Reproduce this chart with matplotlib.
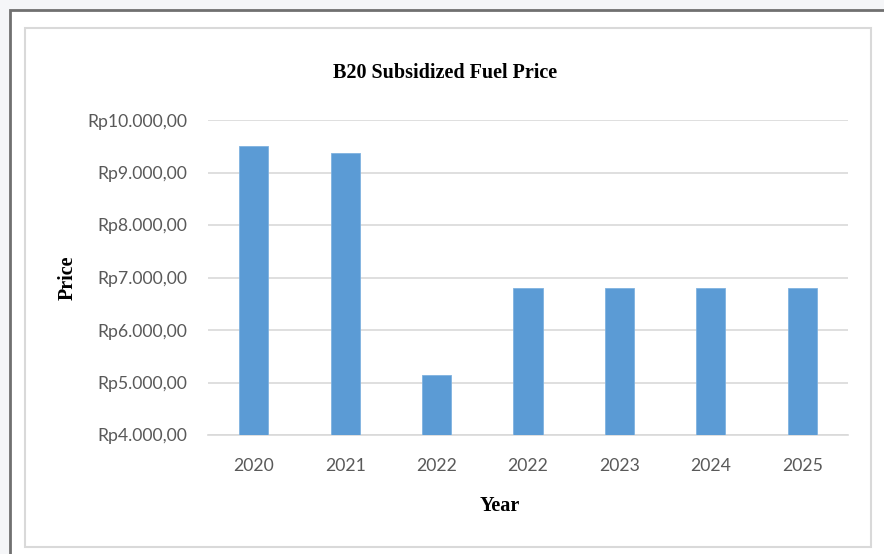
import matplotlib.pyplot as plt
from matplotlib.patches import Rectangle
from matplotlib.ticker import FuncFormatter

# data
years = ['2020', '2021', '2022', '2022', '2023', '2024', '2025']
prices = [9500, 9370, 5150, 6800, 6800, 6800, 6800]
y_ticks = [4000, 5000, 6000, 7000, 8000, 9000, 10000]

W, H = 884, 554


def rp(v, pos=None):
    s = '{:,.2f}'.format(v)
    s = s.replace(',', 'X').replace('.', ',').replace('X', '.')
    return 'Rp' + s


fig = plt.figure(figsize=(W / 100, H / 100), dpi=100, facecolor='#f5f6f8')

# white page with the dark outer frame
fig.patches.append(Rectangle((10 / W, -0.1), 1.1, (H - 10) / H + 0.1,
                             transform=fig.transFigure, facecolor='white',
                             edgecolor='#707070', linewidth=2, zorder=-3))
# chart area frame
fig.patches.append(Rectangle((25 / W, (H - 547) / H), (871 - 25) / W, (547 - 28) / H,
                             transform=fig.transFigure, facecolor='white',
                             edgecolor='#d9d9d9', linewidth=1.5, zorder=-2))

ax = fig.add_axes([208 / W, (H - 435) / H, (848 - 208) / W, (435 - 120) / H])
ax.set_facecolor('none')

x = range(len(years))
ax.bar(x, prices, width=0.32, color='#5b9bd5', edgecolor='#7fb2e0',
       linewidth=0.6, zorder=3)

ax.set_xlim(-0.5, len(years) - 0.5)
ax.set_ylim(4000, 10000)
ax.set_yticks(y_ticks)
ax.yaxis.set_major_formatter(FuncFormatter(rp))
ax.set_xticks(list(x))
ax.set_xticklabels(years)

ax.grid(axis='y', color='#d9d9d9', linewidth=1.2, zorder=0)
for s in ['top', 'right', 'left']:
    ax.spines[s].set_visible(False)
ax.spines['bottom'].set_color('#d9d9d9')
ax.spines['bottom'].set_linewidth(1.2)
ax.tick_params(length=0, colors='#595959', labelsize=12.7)
ax.tick_params(axis='x', pad=16.5)
ax.tick_params(axis='y', pad=15)
for lab in ax.get_xticklabels() + ax.get_yticklabels():
    lab.set_fontfamily('Lato')

fig.text(445 / W, 1 - 73 / H, 'B20 Subsidized Fuel Price', ha='center', va='center',
         fontfamily='Liberation Serif', fontweight='bold', fontsize=14.5)
fig.text(500 / W, 1 - 506 / H, 'Year', ha='center', va='center',
         fontfamily='Liberation Serif', fontweight='bold', fontsize=14.5)
fig.text(68 / W, 1 - 278 / H, 'Price', ha='center', va='center', rotation=90,
         fontfamily='Liberation Serif', fontweight='bold', fontsize=14.5)

fig.savefig('out.png', dpi=100, facecolor=fig.get_facecolor())
